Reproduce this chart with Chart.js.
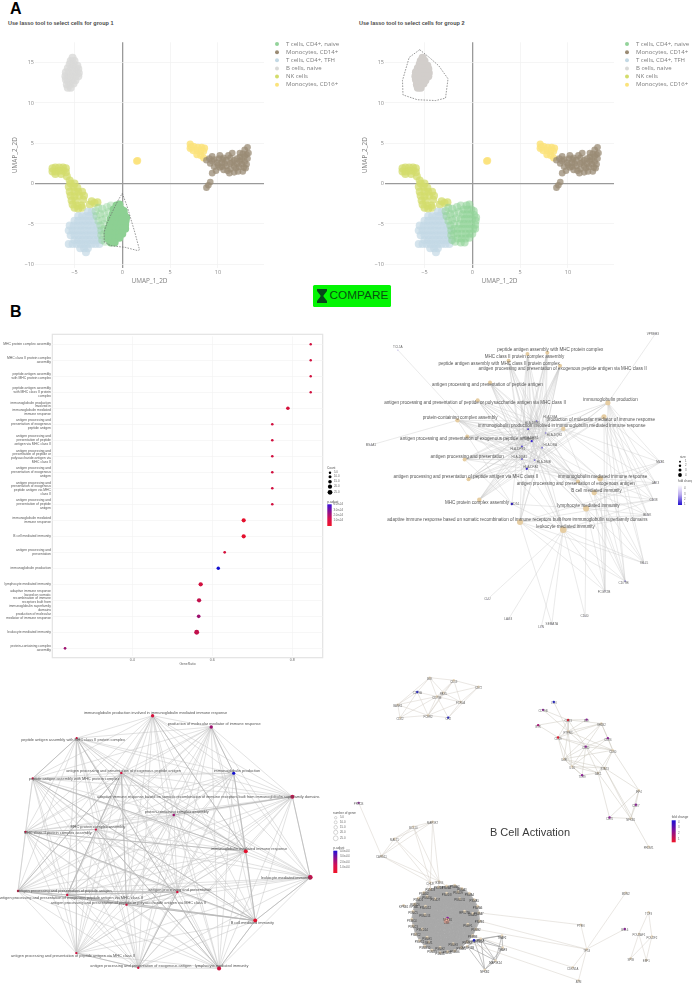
<!DOCTYPE html>
<html><head><meta charset="utf-8"><title>Figure</title>
<script src="https://cdn.jsdelivr.net/npm/chart.js@4"></script>
<style>
html,body{margin:0;padding:0;background:#fff;width:692px;height:988px;overflow:hidden;font-family:"Liberation Sans",Arial,sans-serif}
canvas{position:absolute;filter:blur(.35px)}
#u1,#u2{filter:blur(.55px)}
.t{position:absolute;white-space:nowrap}
.h{font-weight:bold;font-size:16px;color:#000;line-height:16px}
.g{font-weight:bold;font-size:5.5px;color:#4a4a4a;line-height:7px}
#btn{position:absolute;left:313px;top:285px;width:78px;height:21.5px;background:#03f503;border-radius:1.5px;color:#07520f;font-size:11.8px;line-height:21.5px;text-align:left}
#btn svg{position:absolute;left:2.5px;top:4px}
#btn span{position:absolute;left:16.5px;top:0}
</style></head><body>
<div class="t h" style="left:10px;top:1px">A</div>
<div class="t h" style="left:10px;top:304px">B</div>
<div class="t g" style="left:8px;top:19.5px">Use lasso tool to select cells for group 1</div>
<div class="t g" style="left:359px;top:19.5px">Use lasso tool to select cells for group 2</div>
<div id="btn"><svg width="12" height="14" viewBox="0 0 12 14"><path d="M1 0h10v2L7.5 6.5V7.5L11 12v2H1v-2l3.5-4.5v-1L1 2z" fill="#07471a"/></svg><span>COMPARE</span></div>
<canvas id="u1" width="346" height="260" style="left:0;top:38px"></canvas>
<canvas id="u2" width="342" height="260" style="left:350px;top:38px"></canvas>
<canvas id="dot" width="346" height="350" style="left:0;top:320px"></canvas>
<canvas id="n1" width="346" height="340" style="left:346px;top:320px"></canvas>
<canvas id="n2" width="356" height="328" style="left:0;top:660px"></canvas>
<canvas id="n3" width="352" height="328" style="left:340px;top:660px"></canvas>
<script>
/* ---------- A: UMAP cell clouds ---------- */
const CELL_TYPES=["T cells, CD4+, naive","Monocytes, CD14+","T cells, CD4+, TFH","B cells, naive","NK cells","Monocytes, CD16+"];
const CELL_COLORS=["#93d39a","#9a8b74","#c3d9e5","#d9dad8","#d3dc6c","#fbe37c"];
const X_TICK_TITLE="UMAP_1_2D", Y_TICK_TITLE="UMAP_2_2D";
const GREEN_CORE=[[-.6,-2.7],[-.3,-2.6],[-.9,-3.2],[-.5,-3.2],[-.1,-3.2],[.15,-3.4],[-1,-3.8],[-.6,-3.8],[-.2,-3.8],[.2,-3.9],[.4,-4.2],[-1.2,-4.4],[-.8,-4.4],[-.4,-4.4],[0,-4.4],[.35,-4.6],[-1.3,-5],[-.9,-5],[-.5,-5],[-.1,-5],[.3,-5.1],[-1.5,-5.6],[-1.1,-5.6],[-.7,-5.6],[-.3,-5.6],[.1,-5.6],[.3,-5.6],[-1.55,-6.2],[-1.1,-6.2],[-.7,-6.2],[-.3,-6.2],[0,-6.2],[-1.5,-6.8],[-1.1,-6.8],[-.7,-6.8],[-.3,-6.7],[-1.2,-7.3],[-.8,-7.3]];
const GREEN_EDGE=[[-2.8,-3.4],[-2.5,-3],[-2.1,-3.1],[-1.6,-2.9],[-1.2,-2.7],[-2.7,-4],[-2.3,-3.8],[-1.9,-3.7],[-1.4,-3.5],[-2.5,-4.6],[-2.1,-4.5],[-1.7,-4.3],[-2.3,-5.2],[-1.9,-5],[-2.2,-5.8],[-1.9,-5.6],[-2.2,-6.4],[-1.9,-6.2],[-2.1,-7],[-1.8,-7.2]];
const BLUE_TFH=[[-3.6,-3.5],[-3.2,-3.5],[-4.6,-4],[-4.2,-4],[-3.8,-4],[-3.4,-4],[-3,-4],[-5,-4.6],[-4.6,-4.6],[-4.2,-4.6],[-3.8,-4.6],[-3.4,-4.6],[-3,-4.6],[-5.5,-5.2],[-5.1,-5.2],[-4.7,-5.2],[-4.3,-5.2],[-3.9,-5.2],[-3.5,-5.2],[-3.1,-5.2],[-2.7,-5.2],[-5.6,-5.8],[-5.2,-5.8],[-4.8,-5.8],[-4.4,-5.8],[-4,-5.8],[-3.6,-5.8],[-3.2,-5.8],[-2.8,-5.8],[-2.4,-5.8],[-5.4,-6.4],[-5,-6.4],[-4.6,-6.4],[-4.2,-6.4],[-3.8,-6.4],[-3.4,-6.4],[-3,-6.4],[-2.6,-6.4],[-5,-7],[-4.6,-7],[-4.2,-7],[-3.8,-7],[-3.4,-7],[-3,-7],[-2.6,-7],[-2.2,-7],[-5.6,-7.5],[-5.2,-7.5],[-4.8,-7.5],[-4.4,-7.5],[-4,-7.5],[-3.6,-7.5],[-3.2,-7.5],[-2.8,-7.5],[-2.4,-7.5],[-4.4,-8],[-4,-8],[-3.6,-8],[-3.8,-8.5]];
const GREY_B=[[-5.2,15.6],[-5.4,15.2],[-5,15.2],[-5.5,14.8],[-5.1,14.8],[-4.7,14.6],[-5.7,14.3],[-5.3,14.3],[-4.9,14.3],[-4.6,14.2],[-5.9,13.8],[-5.6,13.8],[-5.2,13.8],[-4.8,13.8],[-4.55,13.7],[-5.95,13.3],[-5.7,13.3],[-5.3,13.3],[-4.9,13.3],[-4.6,13.3],[-5.9,12.9],[-5.7,12.8],[-5.3,12.8],[-4.9,12.8],[-5.8,12.3],[-5.5,12.3],[-5.1,12.4],[-5.7,11.9],[-5.4,11.9]];
const NK_CELLS=[[-7.3,1.9],[-7.3,1.5],[-7,2],[-7,1.5],[-6.6,2],[-6.6,1.6],[-6.2,2],[-6.2,1.6],[-5.9,1.9],[-5.9,1.4],[-7,1.2],[-6.4,1.2],[-5.8,.9],[-5.5,.4],[-5.4,0],[-5,0],[-5.6,-.4],[-5.1,-.4],[-4.7,-.5],[-5.5,-1],[-5,-1],[-4.6,-1],[-4.2,-1],[-5.4,-1.5],[-5,-1.6],[-4.5,-1.5],[-4,-1.5],[-5.3,-2.1],[-4.9,-2.1],[-4.1,-2],[-5.2,-2.6],[-4.7,-2.7],[-4.3,-2.7],[-5,-3],[-4.6,-3.1],[-4.2,-3],[-3.2,-2.2],[-2.9,-2.4],[-2.6,-2.3],[-3.4,-2.6]];
const YELLOW_CD16=[[7.1,4.9],[7.2,4.6],[7.1,4.4],[7.5,4.6],[7.9,4.5],[8.3,4.5],[8.6,4.4],[7.4,4.1],[7.8,4.1],[8.2,4],[8.5,4],[7.8,3.6],[8.2,3.5],[8.5,3.2],[1.5,2.8],[1.6,2.85]];
const BROWN_CD14=[[8.8,2.9],[9.2,2.5],[9.6,3],[9.9,2.6],[9.6,2.1],[10.1,3.1],[10.4,2.6],[10.2,2],[10.6,1.7],[10.9,2.2],[10.9,2.9],[10.6,3.2],[11.3,3.2],[11.3,2.5],[11.3,1.8],[11.2,1.3],[11.7,1.4],[11.7,2.2],[11.7,2.9],[11.5,3.8],[12.1,1.5],[12.2,2.1],[12.3,2.8],[12.3,3.3],[12.7,2],[12.8,2.7],[12.8,3.4],[12.8,4.2],[13.1,3.1],[13.2,3.8],[13.1,4.5],[12.6,1.5],[9.4,1.3],[9.2,.2],[9,-.2],[8.8,-.5],[9.1,3.1],[9.4,2.8],[10,2.3],[10.4,2.1],[10.5,3],[11,1.6],[11.5,2.6],[11.9,1.9],[12,2.5],[12,3.1],[12.5,2.4],[12.5,3],[13,2.4],[13,3.6],[12.9,1.9],[10.2,3.5],[9.4,3.4],[10.7,2.5],[11.1,3.5],[12.3,3.8],[12.6,3.7],[9.8,1.6]];
const LASSO_GROUP1=[[0,-1.2],[.5,-2.8],[1.3,-6],[1.8,-8.2],[1.6,-8.3],[.3,-7.9],[-1.2,-7.7],[-1.9,-7.2],[-1.9,-6],[-1.6,-4.9],[-1,-3.4],[-.5,-2.2],[0,-1.2]];
const LASSO_GROUP2=[[-5.5,16.6],[-6.6,15.65],[-7.3,12.8],[-7.25,11],[-5.75,10.4],[-3.83,10.3],[-2.8,10.6],[-2.54,13],[-3.5,14.6],[-4.5,15.65],[-5.5,16.6]];

/* ---------- B: GO dot plot ---------- */
const GO_TERMS=[
["MHC protein complex assembly"],
["MHC class II protein complex","assembly"],
["peptide antigen assembly","with MHC protein complex"],
["peptide antigen assembly","with MHC class II protein","complex"],
["immunoglobulin production","involved in","immunoglobulin mediated","immune response"],
["antigen processing and","presentation of exogenous","peptide antigen"],
["antigen processing and","presentation of peptide","antigen via MHC class II"],
["antigen processing and","presentation of peptide or","polysaccharide antigen via","MHC class II"],
["antigen processing and","presentation of exogenous","antigen"],
["antigen processing and","presentation of exogenous","peptide antigen via MHC","class II"],
["antigen processing and","presentation of peptide","antigen"],
["immunoglobulin mediated","immune response"],
["B cell mediated immunity"],
["antigen processing and","presentation"],
["immunoglobulin production"],
["lymphocyte mediated immunity"],
["adaptive immune response","based on somatic","recombination of immune","receptors built from","immunoglobulin superfamily","domains"],
["production of molecular","mediator of immune response"],
["leukocyte mediated immunity"],
["protein-containing complex","assembly"]];
const GENE_RATIO=[.846,.846,.846,.846,.789,.75,.75,.75,.75,.75,.75,.6785,.6785,.631,.615,.571,.567,.566,.561,.232];
const GENE_COUNT=[5,5,5,5,14,6,6,6,6,6,6,19,19,7,13,20,20,15,25,7];
const P_ADJUST=[.12,.12,.12,.12,.1,.12,.12,.12,.12,.12,.12,.02,.02,.1,1,.12,.2,.4,.2,.4];
const COUNT_TICKS=["5.0","10.0","15.0","20.0","25.0"];
const PADJ_TICKS=["4.0e-04","3.0e-04","2.0e-04","1.0e-04"];

/* ---------- B: gene-concept network ---------- */
const CNET_TERMS=["peptide antigen assembly with MHC protein complex","MHC class II protein complex assembly","peptide antigen assembly with MHC class II protein complex","antigen processing and presentation of exogenous peptide antigen via MHC class II","antigen processing and presentation of peptide antigen","antigen processing and presentation of peptide or polysaccharide antigen via MHC class II","immunoglobulin production","protein-containing complex assembly","production of molecular mediator of immune response","immunoglobulin production involved in immunoglobulin mediated immune response","antigen processing and presentation of exogenous peptide antigen","antigen processing and presentation","immunoglobulin mediated immune response","antigen processing and presentation of peptide antigen via MHC class II","antigen processing and presentation of exogenous antigen","B cell mediated immunity","MHC protein complex assembly","lymphocyte mediated immunity","adaptive immune response based on somatic recombination of immune receptors built from immunoglobulin superfamily domains","leukocyte mediated immunity"];
const CNET_TERM_POS=[[606,88],[545,92],[487,113],[645,128],[430,180],[392,234],[792,242],[330,296],[780,285],[655,322],[360,346],[352,416],[768,475],[364,477],[700,484],[750,518],[397,540],[725,567],[522,608],[655,632]];
const CNET_TERM_LABEL_POS=[[615,78],[536,100],[458,121],[653,136],[422,188],[384,241],[800,232],[338,289],[770,295],[650,313],[360,354],[360,408],[776,468],[356,469],[693,491],[757,511],[390,548],[732,558],[514,600],[662,622]];
const CNET_TERM_SIZE=[2,2,2,2,2,2,2.6,2.2,2.6,2.2,2,2,2.8,2,2,2.6,2.2,3,3,3.3];
const CNET_GENES=["HLA-DMA","HLA-DRB5","HLA-DQB2","HLA-DRB1","HLA-DRA","HLA-DPB1","HLA-DQA1","HLA-DMB","HLA-DPA1","TCL1A","MS4A1","VPREB3","MZB1","JAK3","CD38","BLNK","IGLL5","CD79B","FCGR2B","CD40","SEMA7A","LYN","LAG3","CLU","CD74"];
const CNET_GENE_POS=[[573,298],[547,323],[601,335],[558,360],[590,380],[528,376],[528,415],[567,418],[543,445],[147,80],[64,372],[938,30],[953,425],[938,488],[932,540],[913,587],[903,735],[845,790],[783,820],[722,898],[620,922],[587,932],[486,908],[422,846],[497,553]];
const CNET_GENE_LABEL_POS=[[615,285],[560,305],[628,342],[555,350],[615,373],[515,383],[520,408],[595,425],[555,440],[147,72],[64,372],[930,30],[953,425],[938,488],[932,540],[913,587],[903,735],[840,795],[780,823],[720,898],[620,922],[587,932],[486,908],[422,846],[507,552]];
const CNET_GENE_FC=[.5,.7,.4,.9,.5,.7,.6,.5,.9,.2,.1,.1,.1,.1,.1,.1,.1,.4,.1,.1,.1,.1,.1,.1,1];
const CNET_LINKS=[[0,1,2,3,4,5,6,7],[0,1,2,3,4,5,6,7,24],[0,1,2,3,4,5,6,7],[0,1,2,3,4,5,6,7,8],[0,1,2,3,4,5,6,7,8],[0,1,2,3,4,5,6,7,8],[1,3,5,7,8,11,12,13,14,16,17,18,15],[0,1,2,3,4,5,6,7,8,10,24],[1,3,5,7,8,12,13,14,16,17,18,15],[1,2,3,4,6,8,12,13,14,17],[0,1,2,3,4,5,6,7],[0,1,2,3,4,5,6,7,8,24],[0,2,4,6,8,12,13,14,15,16,17,18],[0,1,2,3,4,5,6,7,8],[0,1,2,3,4,5,6,7,8],[1,3,5,7,12,13,14,15,16,17,18],[0,1,2,3,4,5,6,7,8],[1,3,5,7,12,14,15,16,17,18,19,24],[0,2,4,6,8,13,14,15,16,17,18,20],[1,3,4,6,7,9,14,15,16,17,18,19,20,21,22,23,24]];
const FC_SIZE_TICKS=["1","2","3","4"];
const FC_TICKS=["4","3","2","1"];

/* ---------- B: term-similarity network ---------- */
const EMAP_TERMS=["immunoglobulin production involved in immunoglobulin mediated immune response","production of molecular mediator of immune response","peptide antigen assembly with MHC class II protein complex","antigen processing and presentation of exogenous peptide antigen","peptide antigen assembly with MHC protein complex","immunoglobulin production","adaptive immune response based on somatic recombination of immune receptors built from immunoglobulin superfamily domains","protein-containing complex assembly","MHC protein complex assembly","MHC class II protein complex assembly","immunoglobulin mediated immune response","leukocyte mediated immunity","antigen processing and presentation of peptide antigen","antigen processing and presentation","antigen processing and presentation of exogenous peptide antigen via MHC class II","antigen processing and presentation of peptide or polysaccharide antigen via MHC class II","B cell mediated immunity","antigen processing and presentation of peptide antigen via MHC class II","antigen processing and presentation of exogenous antigen","lymphocyte mediated immunity"];
const EMAP_POS=[[456,159],[636,194],[223,228],[360,335],[88,352],[705,336],[885,408],[521,464],[282,509],[66,516],[742,576],[940,656],[43,698],[532,701],[194,710],[376,740],[771,789],[222,889],[412,934],[660,936]];
const EMAP_LABEL_POS=[[465,151],[645,185],[212,234],[367,328],[215,352],[715,328],[627,408],[530,456],[288,502],[165,519],[752,569],[865,658],[185,697],[540,694],[205,719],[382,734],[762,797],[212,899],[420,929],[668,929]];
const EMAP_COUNT=[14,15,5,6,5,13,20,7,5,5,19,25,6,7,6,6,19,6,6,20];
const EMAP_PADJ=[.1,.4,.12,.12,.12,1,.2,.4,.12,.12,.02,.2,.12,.1,.12,.12,.02,.12,.12,.12];
const EMAP_STRONG=[[10,16],[16,19],[14,16],[12,14],[15,16],[12,13],[14,15],[13,15],[8,9],[2,4],[3,14],[3,15],[3,12],[3,10],[5,10],[1,5],[6,7],[8,19],[9,16],[4,16],[2,19],[13,14],[13,18],[17,18],[11,16],[0,10],[6,11],[12,15],[9,10],[4,10]];

/* ---------- B: B-cell activation PPI network ---------- */
const CLUSTER_A_POS=[[263,42],[337,50],[413,70],[225,86],[305,88],[285,100],[358,117],[165,125],[172,165],[258,158],[320,165]];
const CLUSTER_A_GENES=["BLK","CD19","CD72","CD79A","PAX5","CD79B","FCRLA","BANK1","CD22","FCER2","CR2"];
const CLUSTER_A_COLOR=["t","t","t","b","t","t","t","t","t","t","b"];
const CLUSTER_A_EDGES=[[0,1],[0,3],[0,5],[0,4],[0,7],[1,2],[1,4],[1,5],[1,6],[1,9],[2,6],[2,5],[2,10],[3,5],[3,7],[3,8],[3,9],[4,5],[4,6],[4,9],[5,6],[5,7],[5,8],[5,9],[5,10],[6,10],[6,9],[7,8],[7,9],[8,9],[9,10]];
const CLUSTER_B_POS=[[644,117],[611,141],[596,188],[688,172],[745,171],[790,183],[688,207],[657,226],[810,228],[742,254],[825,265],[675,292],[700,315],[800,320],[780,335],[731,342],[905,388],[896,433],[815,472],[880,475],[935,562]];
const CLUSTER_B_GENES=["LYN","CD79B","BTK","CD83","BLK","SH2B2","PTPRC","CD19","CD86","CD40","CD80","IL4R","IL10","STAT3","JAK1","TLR9","IRF4","CD27","CD70","NFKB1","PRDM1"];
const CLUSTER_B_COLOR=["b","p","c","r","p","t","t","r","p","p","t","t","t","t","t","p","t","p","p","t","t"];
const CLUSTER_B_EDGES=[[0,6],[1,6],[1,3],[2,3],[2,7],[3,6],[3,4],[3,5],[3,9],[3,7],[4,6],[5,6],[5,7],[5,8],[5,9],[5,10],[5,11],[6,7],[6,9],[6,10],[6,11],[6,12],[7,9],[7,11],[7,12],[7,10],[8,9],[8,10],[8,12],[9,10],[9,11],[9,12],[9,13],[9,14],[9,15],[10,11],[10,13],[10,14],[10,16],[11,12],[11,13],[11,14],[12,13],[12,14],[12,15],[13,14],[13,16],[13,20],[13,19],[14,18],[14,19],[14,15],[15,11],[16,19],[16,18],[17,19],[18,19],[16,17]];
const RING_POS=[[315,683],[340,680],[362,690],[385,705],[400,725],[410,745],[414,765],[416,790],[405,815],[395,835],[378,855],[360,872],[340,882],[318,885],[295,888],[270,880],[248,868],[232,850],[220,830],[212,805],[208,785],[212,760],[218,738],[228,720],[245,703],[265,692],[290,686],[255,715],[280,722],[315,705],[350,700],[355,722],[250,745],[248,770],[240,815],[255,840],[295,872],[335,860],[380,800],[395,767],[370,760],[260,855]];
const RING_GENES=["PSMA1","PSMA2","PSMA3","PSMA4","PSMA5","PSMA6","PSMA7","PSMB1","PSMB2","PSMB3","PSMB4","PSMB5","PSMB6","PSMB7","PSMB8","PSMB9","PSMB10","PSMC1","PSMC2","PSMC3","PSMC4","PSMC5","PSMC6","PSMD1","PSMD2","PSMD3","PSMD4","PSMD6","PSMD7","PSMD8","PSMD9","PSMD11","PSMD12","PSMD13","PSMD14","PSME1","PSME2","PSME3","PSMF1","UBA52","RPS27A","SEM1"];
const HUB_POS=[[318,781],[315,790],[399,850],[420,845],[485,835],[487,872],[465,912],[432,940],[378,868],[183,742],[215,740]];
const HUB_GENES=["NFKB1","UBB","TNFRSF13C","RELA","TRAF2","TRAF3","MAP3K14","NFKB2","TNFSF13B","KPNB1","KPNA1"];
const HUB_COLOR=["p","pink","b","t","t","t","t","t","t","t","t"];
const HUB_DARK=[[2,3],[2,4],[2,5],[2,6],[2,7],[3,4],[3,5],[3,6],[3,7],[4,5],[5,6],[6,7],[8,2],[8,3],[8,6],[8,7],[4,6],[5,7]];
const UP_POS=[[115,590],[155,537],[213,500],[272,485],[45,427],[265,672],[292,668]];
const UP_GENES=["CARD11","MALT1","BCL10","MAP3K7","PRKCB","CHUK","IKBKB"];
const UP_COLOR=["t","t","t","t","p","t","t"];
const UP_EDGES=[[0,1],[0,2],[0,3],[1,2],[1,3],[2,3],[4,0],[0,5],[1,5],[2,5],[3,5],[0,6],[1,6],[2,6],[3,6],[5,6]];
const UP_TO_RING=[[5,25],[6,26],[6,0],[5,24]];
const RIGHT_POS=[[727,802],[745,877],[865,703],[862,815],[702,933],[720,973]];
const RIGHT_GENES=["PTEN","TP53","MDM2","BCL6","CDKN1A","ATM"];
const RIGHT_COLOR=["t","t","t","p","t","t"];
const RIGHT_EDGES=[[1,0],[1,2],[1,3],[1,4],[1,5]];
const RIGHT_TO_RING=[[0,6],[1,8],[4,9],[5,10],[1,7]];
const SMALL_POS=[[935,763],[905,830],[945,838],[880,905],[928,910]];
const SMALL_GENES=["TCF3","POU2AF1","POU2F2","SPIB","EBF1"];
const SMALL_EDGES=[[0,1],[0,2],[1,3],[1,4],[2,3],[2,4]];

/* ---------- helpers ---------- */
const pts=a=>a.map(p=>({x:p[0],y:p[1]}));
const segs=(pos,edges)=>{const o=[];edges.forEach(e=>{o.push({x:pos[e[0]][0],y:pos[e[0]][1]},{x:pos[e[1]][0],y:pos[e[1]][1]},{x:NaN,y:NaN});});return o;};
const rgba=(h,a)=>{const n=parseInt(h.slice(1),16);return `rgba(${n>>16},${(n>>8)&255},${n&255},${a})`;};
const mix=(a,b,t)=>{const A=[a>>16,(a>>8)&255,a&255],B=[b>>16,(b>>8)&255,b&255];return `rgb(${A.map((v,i)=>Math.round(v+(B[i]-v)*t)).join(",")})`;};
const padjColor=p=>p<.5?mix(0xe8102a,0x8a1080,p*2):mix(0x8a1080,0x1410d0,(p-.5)*2);
const KIND={t:"#e6d6bc",b:"#1616d8",p:"#8e1a9a",c:"#b0107a",r:"#e8102a",pink:"#f0b0a0"};

/* text labels placed through the chart's own scales */
const labelsPlugin={id:"nodeText",afterDatasetsDraw(c,_a,o){if(!o.items)return;const g=c.ctx,X=c.scales.x,Y=c.scales.y;g.save();g.textAlign="center";g.textBaseline="middle";
 o.items.forEach(s=>{g.font=`${s.size}px "Liberation Sans",Arial,sans-serif`;g.fillStyle=s.color;g.fillText(s.text,X.getPixelForValue(s.x),Y.getPixelForValue(s.y));});g.restore();}};

/* Plotly-like discrete legend */
const umapLegend={id:"umapLegend",afterDraw(c,_a,o){if(!o.names)return;const g=c.ctx;g.save();g.textBaseline="middle";g.textAlign="left";g.font='6px "Open Sans",sans-serif';
 o.names.forEach((n,i)=>{const y=6+i*8.15;g.fillStyle=o.colors[i];g.beginPath();g.arc(277,y,2,0,7);g.fill();g.fillStyle="#7d7d7d";g.fillText(n,286,y);});g.restore();}};

/* ggplot-like size + colour legends */
const sideLegend={id:"sideLegend",afterDraw(c,_a,o){if(!o.barTitle)return;const g=c.ctx;g.save();g.textBaseline="middle";g.textAlign="left";const f='"Liberation Sans",Arial,sans-serif';
 if(o.sizeTitle){g.font=`3.2px ${f}`;g.fillStyle="#555";g.fillText(o.sizeTitle,o.tx,o.sizeTitleY);
 o.sizeY.forEach((y,i)=>{g.beginPath();g.arc(o.dotX,y,o.sizeR[i],0,7);if(o.hollow){g.strokeStyle="#aaa";g.lineWidth=.5;g.stroke();}else{g.fillStyle="#000";g.fill();}g.fillStyle="#666";g.font=`2.8px ${f}`;g.fillText(o.sizeLabels[i],o.labelX,y);});}
 g.font=`3.2px ${f}`;g.fillStyle="#555";g.fillText(o.barTitle,o.barX,o.barTitleY);
 const gr=g.createLinearGradient(0,o.barY,0,o.barY+o.barH);o.barStops.forEach((s,i)=>gr.addColorStop(i/(o.barStops.length-1),s));g.fillStyle=gr;g.fillRect(o.barX,o.barY,o.barW,o.barH);
 g.font=`2.8px ${f}`;g.fillStyle="#666";o.barLabels.forEach((l,i)=>g.fillText(l,o.labelX2,o.barLabelY[i]));g.restore();}};

/* panel frame of the dot plot */
const frame={id:"frame",beforeDraw(c,_a,o){if(!o.box)return;const g=c.ctx,b=o.box;g.save();g.strokeStyle="#e3e3e3";g.lineWidth=1.2;g.strokeRect(b[0],b[1],b[2],b[3]);g.restore();}};
Chart.register(labelsPlugin,umapLegend,sideLegend,frame);
Chart.defaults.animation=false;Chart.defaults.responsive=false;Chart.defaults.plugins.legend.display=false;Chart.defaults.plugins.tooltip.enabled=false;Chart.defaults.events=[];

/* ---------- UMAP panels ---------- */
function umap(id,rightPad,greenCoreColor,greyColor,greenEdgeColor,lasso){
 const cloud=(label,data,color,order,r)=>({type:"scatter",label,data:pts(data),pointRadius:r||4,pointBackgroundColor:color,pointBorderWidth:0,order});
 new Chart(document.getElementById(id),{type:"scatter",data:{datasets:[
  {type:"scatter",label:"lasso",data:pts(lasso),showLine:true,pointRadius:0,borderColor:"#6f6f6f",borderWidth:.7,borderDash:[1.6,1.2],order:0,tension:0},
  cloud(CELL_TYPES[0]+" selected",GREEN_CORE,greenCoreColor,2),
  cloud(CELL_TYPES[0],GREEN_EDGE,greenEdgeColor,3),
  cloud(CELL_TYPES[2],BLUE_TFH,rgba(CELL_COLORS[2],.7),4),
  cloud(CELL_TYPES[4],NK_CELLS,rgba(CELL_COLORS[4],.75),5),
  cloud(CELL_TYPES[3],GREY_B,greyColor,5),
  cloud(CELL_TYPES[5],YELLOW_CD16,rgba(CELL_COLORS[5],.85),6,3.6),
  cloud(CELL_TYPES[1],BROWN_CD14,rgba(CELL_COLORS[1],.75),5,3.3)
 ]},options:{layout:{padding:{left:0,right:rightPad,top:0,bottom:0}},
  plugins:{umapLegend:{names:CELL_TYPES,colors:CELL_COLORS}},
  scales:{
   x:{type:"linear",min:-9.13,max:14.82,border:{display:false},
      grid:{drawTicks:false,color:t=>t.tick.value===0?"#9a9a9a":"#f1f1f1",lineWidth:t=>t.tick.value===0?1.3:.7},
      ticks:{stepSize:5,includeBounds:false,padding:1,maxRotation:0,color:"#888",font:{size:5.5,family:'"Open Sans",sans-serif'},callback:v=>String(v).replace("-","\u2212")},
      title:{display:true,text:X_TICK_TITLE,color:"#808080",font:{size:6.4,family:'"Open Sans",sans-serif'},padding:{top:0,bottom:12.5}},
      afterFit:s=>{s.height=30;}},
   y:{type:"linear",min:-10.46,max:17.52,border:{display:false},
      grid:{drawTicks:false,color:t=>t.tick.value===0?"#9a9a9a":"#f1f1f1",lineWidth:t=>t.tick.value===0?1.3:.7},
      ticks:{stepSize:5,includeBounds:false,padding:1,color:"#888",font:{size:5.5,family:'"Open Sans",sans-serif'},callback:v=>String(v).replace("-","\u2212")},
      title:{display:true,text:Y_TICK_TITLE,color:"#808080",font:{size:6.4,family:'"Open Sans",sans-serif'},padding:{top:11,bottom:0}},
      afterFit:s=>{s.width=35;}}
  }}});
}
umap("u1",82,"#8dd093",rgba(CELL_COLORS[3],.8),rgba(CELL_COLORS[0],.42),LASSO_GROUP1);
umap("u2",78,rgba(CELL_COLORS[0],.6),"#d2cecb",rgba(CELL_COLORS[0],.55),LASSO_GROUP2);

/* ---------- dot plot ---------- */
const ratioR=n=>.9+n*.062;
new Chart(document.getElementById("dot"),{type:"scatter",data:{datasets:[{label:"GO enrichment",
  data:GENE_RATIO.map((v,i)=>({x:v,y:i})),
  pointRadius:GENE_COUNT.map(ratioR),pointBackgroundColor:P_ADJUST.map(padjColor),pointBorderWidth:0}]},
 options:{layout:{padding:{top:16.3,right:23.3,left:0,bottom:0}},
  plugins:{frame:{box:[52.3,14.3,270.4,323.4]},
   sideLegend:{sizeTitle:"Count",tx:327,sizeTitleY:148,dotX:330,sizeY:[152.7,156.7,161.7,166.7,172.3],sizeR:[1.2,1.5,1.8,2.1,2.4],sizeLabels:COUNT_TICKS,labelX:334,
    barTitle:"p.adjust",barTitleY:181.7,barX:327.3,barY:184.3,barW:4.4,barH:21.7,barStops:["#3a10d8","#8a1090","#d81050","#f01428"],barLabels:PADJ_TICKS,labelX2:333.5,barLabelY:[184.3,190,195.3,200.7]}},
  scales:{
   x:{type:"linear",min:.2001,max:.876,border:{display:false},grid:{drawTicks:false,color:"#f2f2f2",lineWidth:.6},
      ticks:{stepSize:.2,includeBounds:false,padding:1.6,maxRotation:0,color:"#666",font:{size:3.6},callback:v=>v.toFixed(1)},
      title:{display:true,text:"GeneRatio",color:"#666",font:{size:3.4},padding:{top:0,bottom:3.6}},
      afterFit:s=>{s.height=13.7;}},
   y:{type:"category",offset:true,labels:GO_TERMS,border:{display:false},grid:{drawTicks:false,color:"#f2f2f2",lineWidth:.6,offset:false},
      ticks:{autoSkip:false,padding:1.3,color:"#5a5a5a",font:{size:3.4,lineHeight:1.1}},
      afterFit:s=>{s.width=52.3;}}
  }}});

/* ---------- network factory ---------- */
function network(id,xMax,yMax,datasets,items,legend){
 new Chart(document.getElementById(id),{type:"scatter",data:{datasets},options:{layout:{padding:0},
  plugins:{nodeText:{items},sideLegend:legend||{}},
  scales:{x:{type:"linear",display:false,min:0,max:xMax},y:{type:"linear",display:false,min:0,max:yMax,reverse:true}}}});
}
const edgeSet=(label,data,color,w,order)=>({label,data,showLine:true,pointRadius:0,borderColor:color,borderWidth:w,spanGaps:false,order,tension:0});
const nodeSet=(label,pos,r,color,order)=>({label,data:pts(pos),pointRadius:r,pointBackgroundColor:color,pointBorderWidth:0,order:order||1});

/* gene-concept network */
const cnetEdges=[];CNET_LINKS.forEach((l,t)=>l.forEach(g=>cnetEdges.push({x:CNET_TERM_POS[t][0],y:CNET_TERM_POS[t][1]},{x:CNET_GENE_POS[g][0],y:CNET_GENE_POS[g][1]},{x:NaN,y:NaN})));
network("n1",1038,1020,[
 edgeSet("links",cnetEdges,"#c9c9c9",.4,3),
 nodeSet("terms",CNET_TERM_POS,CNET_TERM_SIZE,"#e6cda2"),
 nodeSet("genes",CNET_GENE_POS,CNET_GENE_FC.map(v=>.5+v*.7),CNET_GENE_FC.map(v=>mix(0xd8d0f0,0x2410c8,v)))
],[...CNET_TERMS.map((t,i)=>({text:t,x:CNET_TERM_LABEL_POS[i][0],y:CNET_TERM_LABEL_POS[i][1],size:4.55,color:"#555"})),
   ...CNET_GENES.map((t,i)=>({text:t,x:CNET_GENE_LABEL_POS[i][0],y:CNET_GENE_LABEL_POS[i][1],size:3.1,color:"#666"}))],
 {sizeTitle:"size",tx:334,sizeTitleY:136.7,dotX:334,sizeY:[141.7,145.7,150,155],sizeR:[.9,1.2,1.5,1.9],sizeLabels:FC_SIZE_TICKS,labelX:339,
  barTitle:"fold change",barTitleY:161.5,barX:332,barY:165,barW:4,barH:20,barStops:["#ffffff","#b8a8ee","#2410d0"],barLabels:FC_TICKS,labelX2:338,barLabelY:[168,174,179,184]});

/* term-similarity network */
const emapPairs=[];EMAP_POS.forEach((_,i)=>EMAP_POS.forEach((_,j)=>{if(j>i)emapPairs.push([i,j]);}));
network("n2",1068,984,[
 edgeSet("similarity",segs(EMAP_POS,emapPairs),"#c4c4c4",.5,4),
 edgeSet("strong similarity",segs(EMAP_POS,EMAP_STRONG),"#b6b6b6",.75,3),
 nodeSet("terms",EMAP_POS,EMAP_COUNT.map(n=>.8+n*.062),EMAP_PADJ.map(padjColor))
],EMAP_TERMS.map((t,i)=>({text:t,x:EMAP_LABEL_POS[i][0],y:EMAP_LABEL_POS[i][1],size:3.9,color:"#555"})),
 {hollow:true,sizeTitle:"number of genes",tx:333,sizeTitleY:152.7,dotX:335.7,sizeY:[157.7,162.3,167.3,172.3,178.3],sizeR:[1.2,1.5,1.8,2.1,2.4],sizeLabels:COUNT_TICKS,labelX:340,
  barTitle:"p.adjust",barTitleY:188,barX:333.3,barY:190.7,barW:4,barH:22.3,barStops:["#2010d8","#8a1090","#d81050","#f01428"],barLabels:PADJ_TICKS,labelX2:340,barLabelY:[191.3,196.7,202.3,207.7]});

/* PPI network */
const ringPairs=[];RING_POS.forEach((_,i)=>RING_POS.forEach((_,j)=>{if(j>i)ringPairs.push([i,j]);}));
const crossSeg=(a,b,links)=>{const o=[];links.forEach(l=>{const p=a[l[0]],q=b[l[1]];o.push({x:p[0],y:p[1]},{x:q[0],y:q[1]},{x:NaN,y:NaN});});return o;};
const ppiLabels=(pos,names,size,color,dy)=>names.map((t,i)=>({text:t,x:pos[i][0],y:pos[i][1]+dy,size,color}));
const kinds=a=>a.map(k=>KIND[k]);
const TITLE_LABEL="B Cell Activation";
network("n3",1056,984,[
 edgeSet("proteasome core",segs(RING_POS,ringPairs),"#a9a9a9",.5,6),
 edgeSet("cluster A",segs(CLUSTER_A_POS,CLUSTER_A_EDGES),"#cfcac0",.45,5),
 edgeSet("cluster B",segs(CLUSTER_B_POS,CLUSTER_B_EDGES),"#c8c3b8",.45,5),
 edgeSet("upper arm",[...segs(UP_POS,UP_EDGES),...crossSeg(UP_POS,RING_POS,UP_TO_RING)],"#cfcac0",.45,5),
 edgeSet("right arm",[...segs(RIGHT_POS,RIGHT_EDGES),...crossSeg(RIGHT_POS,RING_POS,RIGHT_TO_RING)],"#cfcac0",.45,5),
 edgeSet("small cluster",segs(SMALL_POS,SMALL_EDGES),"#cfcac0",.45,5),
 edgeSet("lower arm",segs(HUB_POS,HUB_DARK),"#9a9a9a",.6,5),
 nodeSet("ring",RING_POS,1.5,"#e6d6bc",2),
 nodeSet("cluster A nodes",CLUSTER_A_POS,1.2,kinds(CLUSTER_A_COLOR)),
 nodeSet("cluster B nodes",CLUSTER_B_POS,1.2,kinds(CLUSTER_B_COLOR)),
 nodeSet("hubs",HUB_POS,HUB_COLOR.map(k=>k==="pink"?2.8:1.3),kinds(HUB_COLOR)),
 nodeSet("upper nodes",UP_POS,1.2,kinds(UP_COLOR)),
 nodeSet("right nodes",RIGHT_POS,1.2,kinds(RIGHT_COLOR)),
 nodeSet("small nodes",SMALL_POS,1.2,"#e6d6bc")
],[...ppiLabels(CLUSTER_A_POS,CLUSTER_A_GENES,2.8,"#666",5),...ppiLabels(CLUSTER_B_POS,CLUSTER_B_GENES,2.8,"#666",5),
   ...ppiLabels(RING_POS,RING_GENES,2.8,"#3a3a3a",5),...ppiLabels(HUB_POS,HUB_GENES,2.8,"#444",7),
   ...ppiLabels(UP_POS,UP_GENES,2.8,"#666",5),...ppiLabels(RIGHT_POS,RIGHT_GENES,2.8,"#666",5),...ppiLabels(SMALL_POS,SMALL_GENES,2.8,"#666",5),
   {text:TITLE_LABEL,x:571,y:521,size:11,color:"#3a3a3a"}],
 {barTitle:"fold change",barTitleY:157.3,barX:331.7,barY:160.3,barW:4,barH:22,barStops:["#1a10d8","#8a1090","#f01428"],barLabels:FC_TICKS,labelX2:338,barLabelY:[162,167,173,179]});
</script>
</body></html>
